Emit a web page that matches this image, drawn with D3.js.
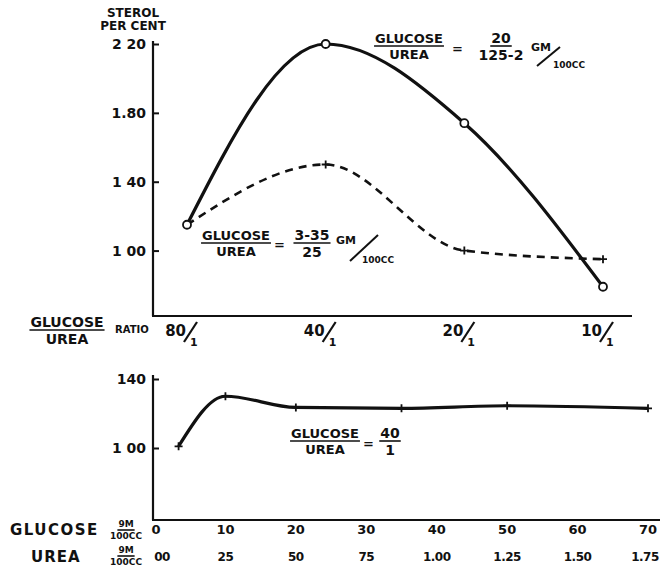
<!DOCTYPE html>
<html><head><meta charset="utf-8">
<script src="https://cdn.jsdelivr.net/npm/d3@7"></script>
<style>
html,body{margin:0;padding:0;background:#fff;}
svg{display:block;}
text{font-family:"DejaVu Sans",sans-serif;font-weight:bold;fill:#111;}
</style></head>
<body><svg id="c" width="662" height="572"></svg>
<script>
// ---- data ----
const ratioCategories = [80, 40, 20, 10];
const sterolSolid = [1.15, 2.20, 1.74, 0.79];
const sterolDashed = [1.15, 1.50, 1.00, 0.95];
const topYTicks = [1.00, 1.40, 1.80, 2.20];
const topYTickLabels = ["1 00", "1 40", "1.80", "2 20"];

const glucoseVals = [3.35, 10, 20, 35, 50, 70];
const sterolBottom = [101, 130, 123.5, 123, 124.5, 123];
const bottomYTicks = [100, 140];
const bottomYTickLabels = ["1 00", "140"];
const glucoseTicks = [0, 10, 20, 30, 40, 50, 60, 70];
const ureaTickLabels = ["00", "25", "50", "75", "1.00", "1.25", "1.50", "1.75"];

const svg = d3.select("#c");
const ink = "#111";

// ---- top panel ----
const xTop = d3.scaleLog().domain([80, 10]).range([187, 603]);
const yTop = d3.scaleLinear().domain([0.62, 2.20]).range([316, 44]);

const gTop = svg.append("g");
const yAxTop = d3.axisLeft(yTop).tickValues(topYTicks).tickSize(-6).tickPadding(7)
  .tickFormat((d, i) => topYTickLabels[i]);
const ya = gTop.append("g").attr("transform", "translate(153,0)").call(yAxTop);
ya.select(".domain").remove();
ya.selectAll(".tick line").attr("stroke", ink).attr("stroke-width", 2);
ya.selectAll(".tick text").style("font-size", "14px").attr("fill", ink).style("font-family", "DejaVu Sans");
gTop.append("line").attr("x1", 153).attr("x2", 153).attr("y1", yTop(2.20) - 3).attr("y2", 316)
  .attr("stroke", ink).attr("stroke-width", 2.2);
gTop.append("line").attr("x1", 152).attr("x2", 632).attr("y1", 316).attr("y2", 316)
  .attr("stroke", ink).attr("stroke-width", 2.2);

// ratio labels  "80/1"
ratioCategories.forEach(r => {
  const x = xTop(r);
  const g = gTop.append("g").attr("transform", `translate(${x},0)`);
  g.append("text").attr("x", -1).attr("y", 336).attr("text-anchor", "end").style("font-size", "15px").text(r);
  g.append("line").attr("x1", 10).attr("y1", 322).attr("x2", -3).attr("y2", 342).attr("stroke", ink).attr("stroke-width", 2.2);
  g.append("text").attr("x", 3).attr("y", 346).style("font-size", "11px").text("1");
});

// y axis title
svg.append("text").attr("x", 133).attr("y", 17).attr("text-anchor", "middle").style("font-size", "12px").text("STEROL");
svg.append("text").attr("x", 133).attr("y", 30).attr("text-anchor", "middle").style("font-size", "12px").text("PER CENT");

function fracLabel(parent, x, y, top, bottom, size) {
  const g = parent.append("g");
  const t = g.append("text").attr("x", x).attr("y", y).attr("text-anchor", "middle").style("font-size", size + "px").text(top);
  const w = t.node().getComputedTextLength();
  g.append("line").attr("x1", x - w / 2 - 1).attr("x2", x + w / 2 + 1).attr("y1", y + 3).attr("y2", y + 3)
    .attr("stroke", ink).attr("stroke-width", 1.6);
  g.append("text").attr("x", x).attr("y", y + size + 3).attr("text-anchor", "middle").style("font-size", size + "px").text(bottom);
  return g;
}
fracLabel(svg, 67, 327, "GLUCOSE", "UREA", 14);
svg.append("text").attr("x", 115).attr("y", 333).style("font-size", "10px").text("RATIO");

// lines
const lineTop = (vals) => d3.line().curve(d3.curveMonotoneX)
  .x((d, i) => xTop(ratioCategories[i])).y(d => yTop(d))(vals);
gTop.append("path").attr("d", lineTop(sterolDashed)).attr("fill", "none").attr("stroke", ink)
  .attr("stroke-width", 2.6).attr("stroke-dasharray", "8,6");
gTop.append("path").attr("d", lineTop(sterolSolid)).attr("fill", "none").attr("stroke", ink)
  .attr("stroke-width", 3.2);

function cross(g, x, y, s) {
  g.append("path").attr("d", `M${x - s},${y}L${x + s},${y}M${x},${y - s}L${x},${y + s}`)
    .attr("stroke", ink).attr("stroke-width", 1.8).attr("fill", "none");
}
sterolDashed.forEach((v, i) => { if (i > 0) cross(gTop, xTop(ratioCategories[i]), yTop(v), 4); });
sterolSolid.forEach((v, i) => {
  gTop.append("circle").attr("cx", xTop(ratioCategories[i])).attr("cy", yTop(v)).attr("r", 4)
    .attr("fill", "#fff").attr("stroke", ink).attr("stroke-width", 1.8);
});

// annotations top
fracLabel(svg, 409, 43, "GLUCOSE", "UREA", 13);
svg.append("text").attr("x", 452).attr("y", 53).style("font-size", "13px").text("=");
fracLabel(svg, 501, 43, "20", "125-2", 14);
svg.append("text").attr("x", 531).attr("y", 51).style("font-size", "11px").text("GM");
svg.append("line").attr("x1", 537).attr("y1", 66).attr("x2", 560).attr("y2", 47).attr("stroke", ink).attr("stroke-width", 2);
svg.append("text").attr("x", 553).attr("y", 68).style("font-size", "9px").text("100CC");

fracLabel(svg, 236, 240, "GLUCOSE", "UREA", 13);
svg.append("text").attr("x", 274).attr("y", 249).style("font-size", "13px").text("=");
fracLabel(svg, 312, 240, "3-35", "25", 14);
svg.append("text").attr("x", 336).attr("y", 244).style("font-size", "11px").text("GM");
svg.append("line").attr("x1", 350).attr("y1", 261).attr("x2", 378).attr("y2", 235).attr("stroke", ink).attr("stroke-width", 2);
svg.append("text").attr("x", 362).attr("y", 263).style("font-size", "9px").text("100CC");

// ---- bottom panel ----
const xBot = d3.scaleLinear().domain([0, 70]).range([155, 648]);
const yBot = d3.scaleLinear().domain([100, 140]).range([448, 379]);
const gBot = svg.append("g");
const yAxBot = d3.axisLeft(yBot).tickValues(bottomYTicks).tickSize(-6).tickPadding(7)
  .tickFormat((d, i) => bottomYTickLabels[i]);
const yb = gBot.append("g").attr("transform", "translate(153,0)").call(yAxBot);
yb.select(".domain").remove();
yb.selectAll(".tick line").attr("stroke", ink).attr("stroke-width", 2);
yb.selectAll(".tick text").style("font-size", "14px").attr("fill", ink).style("font-family", "DejaVu Sans");
gBot.append("line").attr("x1", 153).attr("x2", 153).attr("y1", yBot(140) - 4).attr("y2", 520)
  .attr("stroke", ink).attr("stroke-width", 2.2);
gBot.append("line").attr("x1", 152).attr("x2", 660).attr("y1", 520).attr("y2", 520)
  .attr("stroke", ink).attr("stroke-width", 2.2);

glucoseTicks.forEach((t, i) => {
  gBot.append("text").attr("x", xBot(t) + (i === 0 ? 1 : 0)).attr("y", 534).attr("text-anchor", "middle")
    .style("font-size", "13px").text(t);
  gBot.append("text").attr("x", xBot(t) + (i === 0 ? 7 : 0) - (i === 7 ? 3 : 0)).attr("y", 561).attr("text-anchor", "middle")
    .style("font-size", "12px").style("letter-spacing", "-0.5px").text(ureaTickLabels[i]);
});
svg.append("text").attr("x", 10).attr("y", 535).style("font-size", "15px").style("letter-spacing", "1.5px").text("GLUCOSE");
fracLabel(svg, 126, 527, "9M", "100CC", 9);
svg.append("text").attr("x", 31).attr("y", 562).style("font-size", "15px").style("letter-spacing", "1px").text("UREA");
fracLabel(svg, 126, 553, "9M", "100CC", 9);

gBot.append("path").attr("d", d3.line().curve(d3.curveMonotoneX)
  .x((d, i) => xBot(glucoseVals[i])).y(d => yBot(d))(sterolBottom))
  .attr("fill", "none").attr("stroke", ink).attr("stroke-width", 3.2);
sterolBottom.forEach((v, i) => cross(gBot, xBot(glucoseVals[i]), yBot(v), 4));

fracLabel(svg, 325, 438, "GLUCOSE", "UREA", 13);
svg.append("text").attr("x", 363).attr("y", 448).style("font-size", "13px").text("=");
fracLabel(svg, 390, 438, "40", "1", 14);
</script></body></html>
